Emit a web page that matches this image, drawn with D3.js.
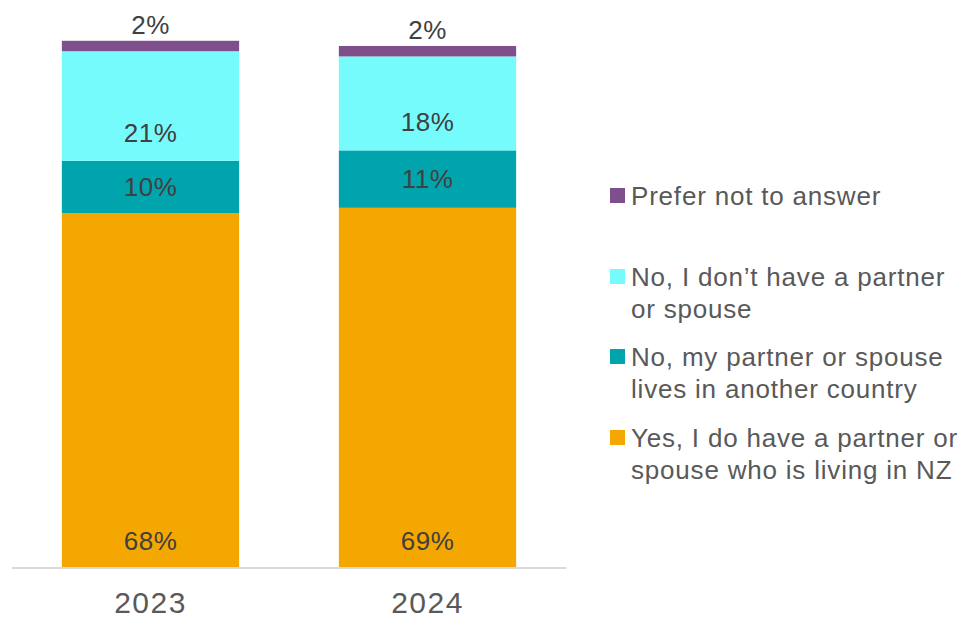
<!DOCTYPE html>
<html>
<head>
<meta charset="utf-8">
<script src="https://cdn.jsdelivr.net/npm/d3@7"></script>
<style>
  body { margin: 0; background: #fff; }
  svg { display: block; font-family: "Liberation Sans", Arial, sans-serif; }
</style>
</head>
<body>
<svg id="chart" width="959" height="619"></svg>
<script>
// Survey years
const years = ["2023", "2024"];

// Series, bottom to top of each stacked bar (percent of respondents)
const seriesKeys = ["yes", "abroad", "none", "prefer"];
const yesNZ      = [68, 69];
const abroad     = [10, 11];
const noPartner  = [21, 18];
const preferNot  = [2, 2];

const colors = {
  yes: "#f4a700",
  abroad: "#00a4ac",
  none: "#76fbfd",
  prefer: "#7f4f8c"
};

// Legend entries, top to bottom, with wrapped lines
const legendItems = [
  { key: "prefer", lines: ["Prefer not to answer"] },
  { key: "none",   lines: ["No, I don\u2019t have a partner", "or spouse"] },
  { key: "abroad", lines: ["No, my partner or spouse", "lives in another country"] },
  { key: "yes",    lines: ["Yes, I do have a partner or", "spouse who is living in NZ"] }
];

const rows = years.map((y, i) => ({
  year: y,
  yes: yesNZ[i],
  abroad: abroad[i],
  none: noPartner[i],
  prefer: preferNot[i]
}));

const svg = d3.select("#chart");

const x = d3.scaleBand()
  .domain(years)
  .range([12, 566])
  .paddingInner(0.36)
  .paddingOuter(0.18);

const y = d3.scaleLinear()
  .domain([0, 100])
  .range([568, 46]);

const stack = d3.stack().keys(seriesKeys)(rows);

// Bars
const layers = svg.append("g")
  .selectAll("g")
  .data(stack)
  .join("g")
  .attr("fill", d => colors[d.key]);

layers.selectAll("rect")
  .data(d => d.map(s => ({ key: d.key, s })))
  .join("rect")
  .attr("x", d => x(d.s.data.year))
  .attr("width", x.bandwidth())
  .attr("y", d => y(d.s[1]))
  .attr("height", d => y(d.s[0]) - y(d.s[1]));

// Baseline axis
const xAxis = svg.append("g")
  .attr("transform", "translate(0,568)")
  .call(d3.axisBottom(x).tickSize(0).tickPadding(24));
xAxis.select(".domain").attr("stroke", "#d9d9d9").attr("stroke-width", 2)
  .attr("d", "M12,0H566");
xAxis.selectAll("text")
  .attr("font-size", 30)
  .attr("letter-spacing", 1.5)
  .attr("fill", "#595959")
  .attr("font-family", "Liberation Sans, Arial, sans-serif");

// Data labels
const labelG = svg.append("g")
  .attr("font-size", 26)
  .attr("letter-spacing", 0.5)
  .attr("fill", "#404040")
  .attr("text-anchor", "middle");

stack.forEach(layer => {
  layer.forEach(s => {
    const cx = x(s.data.year) + x.bandwidth() / 2;
    const v = s[1] - s[0];
    let ty;
    if (layer.key === "yes") ty = y(s[0]) - 18;
    else if (layer.key === "abroad") ty = (y(s[0]) + y(s[1])) / 2 + 9;
    else if (layer.key === "none") ty = y(s[0]) - 19;
    else ty = y(s[1]) - 7;
    labelG.append("text")
      .attr("x", cx)
      .attr("y", ty)
      .text(v + "%");
  });
});

// Legend
const legend = svg.append("g")
  .attr("font-size", 26)
  .attr("letter-spacing", 0.8)
  .attr("fill", "#595959");
const legendTops = [196, 277, 357, 438];
legendItems.forEach((item, i) => {
  const g = legend.append("g").attr("transform", `translate(610,${legendTops[i]})`);
  g.append("rect")
    .attr("x", 0).attr("y", -8)
    .attr("width", 15).attr("height", 15)
    .attr("fill", colors[item.key]);
  item.lines.forEach((ln, j) => {
    g.append("text")
      .attr("x", 21)
      .attr("y", j * 32)
      .attr("dy", "0.35em")
      .text(ln);
  });
});
</script>
</body>
</html>
